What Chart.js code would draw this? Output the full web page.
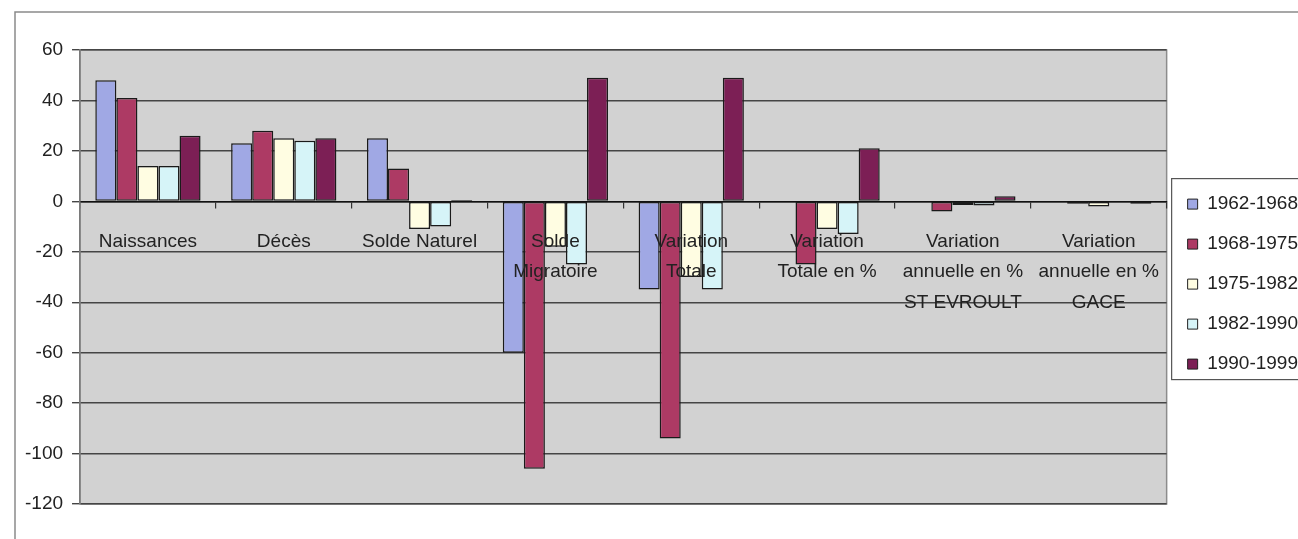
<!DOCTYPE html>
<html lang="fr">
<head>
<meta charset="utf-8">
<title>Évolution démographique</title>
<script src="https://cdn.jsdelivr.net/npm/chart.js@4/dist/chart.umd.min.js"></script>
<style>
  html, body { margin: 0; padding: 0; background: #ffffff; }
  canvas { display: block; }
</style>
</head>
<body>
<canvas id="c" width="1298" height="539"></canvas>
<script>
// Categories (multi-line labels are arrays of lines)
const categories = [
  'Naissances',
  'Décès',
  'Solde Naturel',
  ['Solde', 'Migratoire'],
  ['Variation', 'Totale'],
  ['Variation', 'Totale en %'],
  ['Variation', 'annuelle en %', 'ST EVROULT'],
  ['Variation', 'annuelle en %', 'GACE']
];

// Periods shown in the legend
const periods = ['1962-1968', '1968-1975', '1975-1982', '1982-1990', '1990-1999'];

// Values per period, one entry per category
const v1962_1968 = [48, 23, 25, -60, -35, 0, 0, 0];
const v1968_1975 = [41, 28, 13, -106, -94, -25, -4, -1];
const v1975_1982 = [14, 25, -11, -18, -30, -11, -1.5, -2];
const v1982_1990 = [14, 24, -10, -25, -35, -13, -1.7, 0];
const v1990_1999 = [26, 25, 0.5, 49, 49, 21, 2, -1];

// Value axis ticks
const yTicks = [60, 40, 20, 0, -20, -40, -60, -80, -100, -120];

const seriesValues = [v1962_1968, v1968_1975, v1975_1982, v1982_1990, v1990_1999];
const seriesColors = ['#a0a8e4', '#ad3a64', '#fffde2', '#d6f4f8', '#7c1f55'];

const FONT = "'Liberation Sans', Arial, sans-serif";

// Page frame, plot background and legend frame
const framePlugin = {
  id: 'frame',
  beforeDraw(chart) {
    const ctx = chart.ctx;
    const a = chart.chartArea;
    ctx.save();
    ctx.fillStyle = '#ffffff';
    ctx.fillRect(0, 0, chart.width, chart.height);
    // outer frame (top and left edges)
    ctx.strokeStyle = '#8a8a8a';
    ctx.lineWidth = 1.5;
    ctx.beginPath();
    ctx.moveTo(15, chart.height);
    ctx.lineTo(15, 12);
    ctx.lineTo(chart.width, 12);
    ctx.stroke();
    // plot area
    ctx.fillStyle = '#d2d2d2';
    ctx.fillRect(a.left, a.top, a.right - a.left, a.bottom - a.top);
    ctx.strokeStyle = '#8c8c8c';
    ctx.lineWidth = 1.5;
    ctx.strokeRect(a.left, a.top, a.right - a.left, a.bottom - a.top);
    ctx.restore();
  },
  afterDraw(chart) {
    const lg = chart.legend;
    if (!lg || !lg.legendHitBoxes || !lg.legendHitBoxes.length) return;
    const hb = lg.legendHitBoxes;
    const first = hb[0];
    const last = hb[hb.length - 1];
    const ctx = chart.ctx;
    ctx.save();
    ctx.strokeStyle = '#555555';
    ctx.lineWidth = 1.2;
    const x0 = lg.left + 5;
    const y0 = first.top - 16;
    const y1 = last.top + last.height + 6;
    ctx.strokeRect(x0, y0, chart.width + 10 - x0, y1 - y0);
    ctx.restore();
  }
};

const datasets = periods.map((p, i) => ({
  label: p,
  data: seriesValues[i],
  backgroundColor: seriesColors[i],
  borderColor: '#1a1a1a',
  borderWidth: 1.5,
  borderSkipped: false,
  categoryPercentage: 0.775,
  barPercentage: 1.0
}));

new Chart(document.getElementById('c'), {
  type: 'bar',
  data: { labels: categories, datasets },
  plugins: [framePlugin],
  options: {
    responsive: false,
    animation: false,
    devicePixelRatio: 1,
    layout: { padding: { top: 50, left: 16, right: -10, bottom: 35 } },
    plugins: {
      tooltip: { enabled: false },
      legend: {
        position: 'right',
        align: 'center',
        title: { display: true, text: '', font: { size: 1 }, padding: { top: 13, bottom: 0 } },
        labels: {
          boxWidth: 10,
          boxHeight: 10,
          padding: 21,
          color: '#222222',
          font: { family: FONT, size: 19 },
          generateLabels(chart) {
            return chart.data.datasets.map((ds, i) => ({
              text: ds.label,
              fillStyle: ds.backgroundColor,
              strokeStyle: '#222222',
              lineWidth: 1,
              hidden: false,
              datasetIndex: i,
              fontColor: '#222222'
            }));
          }
        }
      }
    },
    scales: {
      x: {
        position: { y: 0 },
        afterFit(scale) { scale.height = 0; },
        grid: {
          offset: true,
          drawOnChartArea: false,
          drawTicks: true,
          tickLength: 6,
          color: '#333333',
          lineWidth: 1.2
        },
        border: { display: true, color: '#111111', width: 1.6 },
        ticks: {
          z: 1,
          color: '#222222',
          font: { family: FONT, size: 19, lineHeight: 1.6 },
          padding: 19,
          maxRotation: 0,
          autoSkip: false
        }
      },
      y: {
        min: -120,
        max: 60,
        afterBuildTicks(scale) { scale.ticks = yTicks.map(v => ({ value: v })); },
        grid: {
          color: '#454545',
          lineWidth: 1.4,
          drawTicks: true,
          tickLength: 8
        },
        border: { display: true, color: '#7a7a7a', width: 1.5 },
        ticks: {
          color: '#222222',
          font: { family: FONT, size: 19 },
          padding: 9
        }
      }
    }
  }
});
</script>
</body>
</html>
